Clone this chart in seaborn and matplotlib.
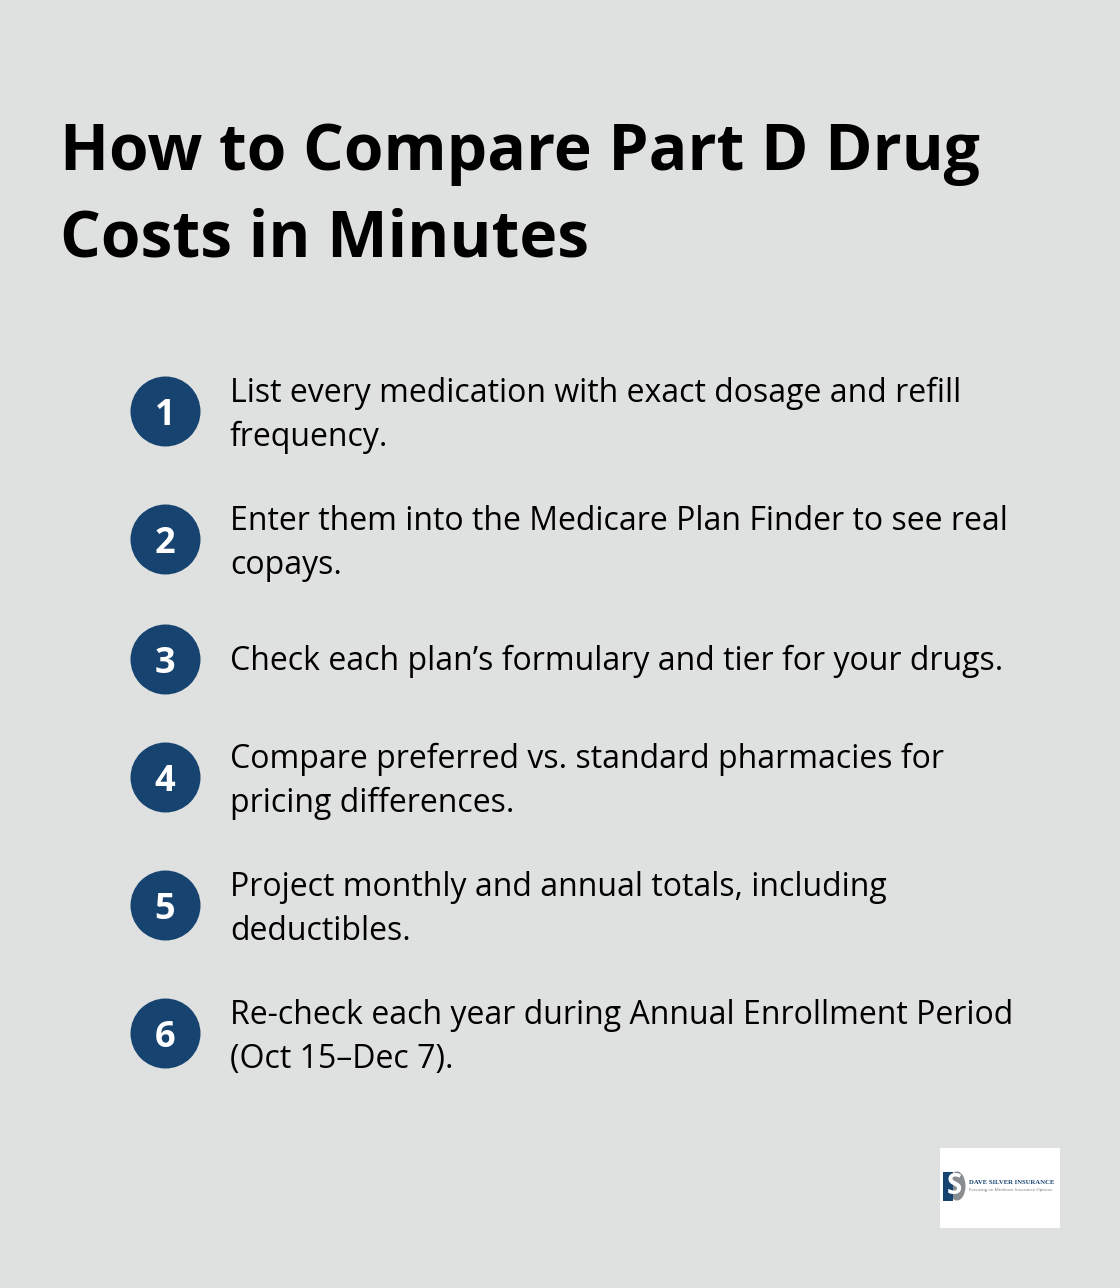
import matplotlib
matplotlib.use('Agg')
import matplotlib.pyplot as plt
import seaborn as sns
import pandas as pd
from matplotlib.patches import Rectangle, Ellipse

TITULO = ['How to Compare Part D Drug', 'Costs in Minutes']
NUMEROS = ['1', '2', '3', '4', '5', '6']
PASSOS = [
    ['List every medication with exact dosage and refill', 'frequency.'],
    ['Enter them into the Medicare Plan Finder to see real', 'copays.'],
    ['Check each plan’s formulary and tier for your drugs.'],
    ['Compare preferred vs. standard pharmacies for', 'pricing differences.'],
    ['Project monthly and annual totals, including', 'deductibles.'],
    ['Re-check each year during Annual Enrollment Period', '(Oct 15–Dec 7).'],
]
CENTROS_Y = [411, 539, 659, 777, 905, 1033]

FUNDO = '#dfe1e0'
AZUL = '#164370'

sns.set_theme(style='white')
plt.rcParams['font.family'] = ['Open Sans', 'DejaVu Sans']

fig = plt.figure(figsize=(11.2, 12.88), dpi=100, facecolor=FUNDO)
ax = fig.add_axes([0, 0, 1, 1])
ax.set_facecolor(FUNDO)

df = pd.DataFrame({'x': [164.7] * len(CENTROS_Y), 'y': CENTROS_Y})
# s em pontos^2: diametro de 70 px = 50.4 pt
sns.scatterplot(data=df, x='x', y='y', s=50.4**2, color=AZUL, linewidth=0, ax=ax, legend=False)

ax.set_xlim(0, 1120)
ax.set_ylim(1288, 0)
ax.axis('off')

ax.text(60, 170, TITULO[0], fontsize=46.2, weight='bold', color='black', va='baseline')
ax.text(60, 256, TITULO[1], fontsize=46.2, weight='bold', color='black', va='baseline')

for num, linhas, cy in zip(NUMEROS, PASSOS, CENTROS_Y):
    ax.text(165, cy + 14, num, fontsize=26, weight='bold', color='white', ha='center', va='baseline')
    if len(linhas) == 2:
        ys = [cy - 9, cy + 35]
    else:
        ys = [cy + 11]
    for linha, y in zip(linhas, ys):
        ax.text(230, y, linha, fontsize=23, color='black', va='baseline')

# logo
ax.add_patch(Rectangle((940, 1148), 120, 80, facecolor='white', edgecolor='none'))
ax.add_patch(Ellipse((957, 1186), 17, 29, facecolor='#8a8d90', edgecolor='none'))
ax.add_patch(Rectangle((943, 1172), 10, 29, facecolor=AZUL, edgecolor='none'))
ax.text(954, 1186, 'S', fontsize=20, weight='bold', color='white', ha='center', va='center')
ax.text(969, 1183, 'DAVE SILVER INSURANCE', fontsize=4.9, weight='bold', color=AZUL, family='Liberation Serif', va='center')
ax.text(969, 1190, 'Focusing on Medicare Insurance Options', fontsize=3.2, color='#777777', va='center')

fig.savefig('out.png', dpi=100, facecolor=FUNDO)
